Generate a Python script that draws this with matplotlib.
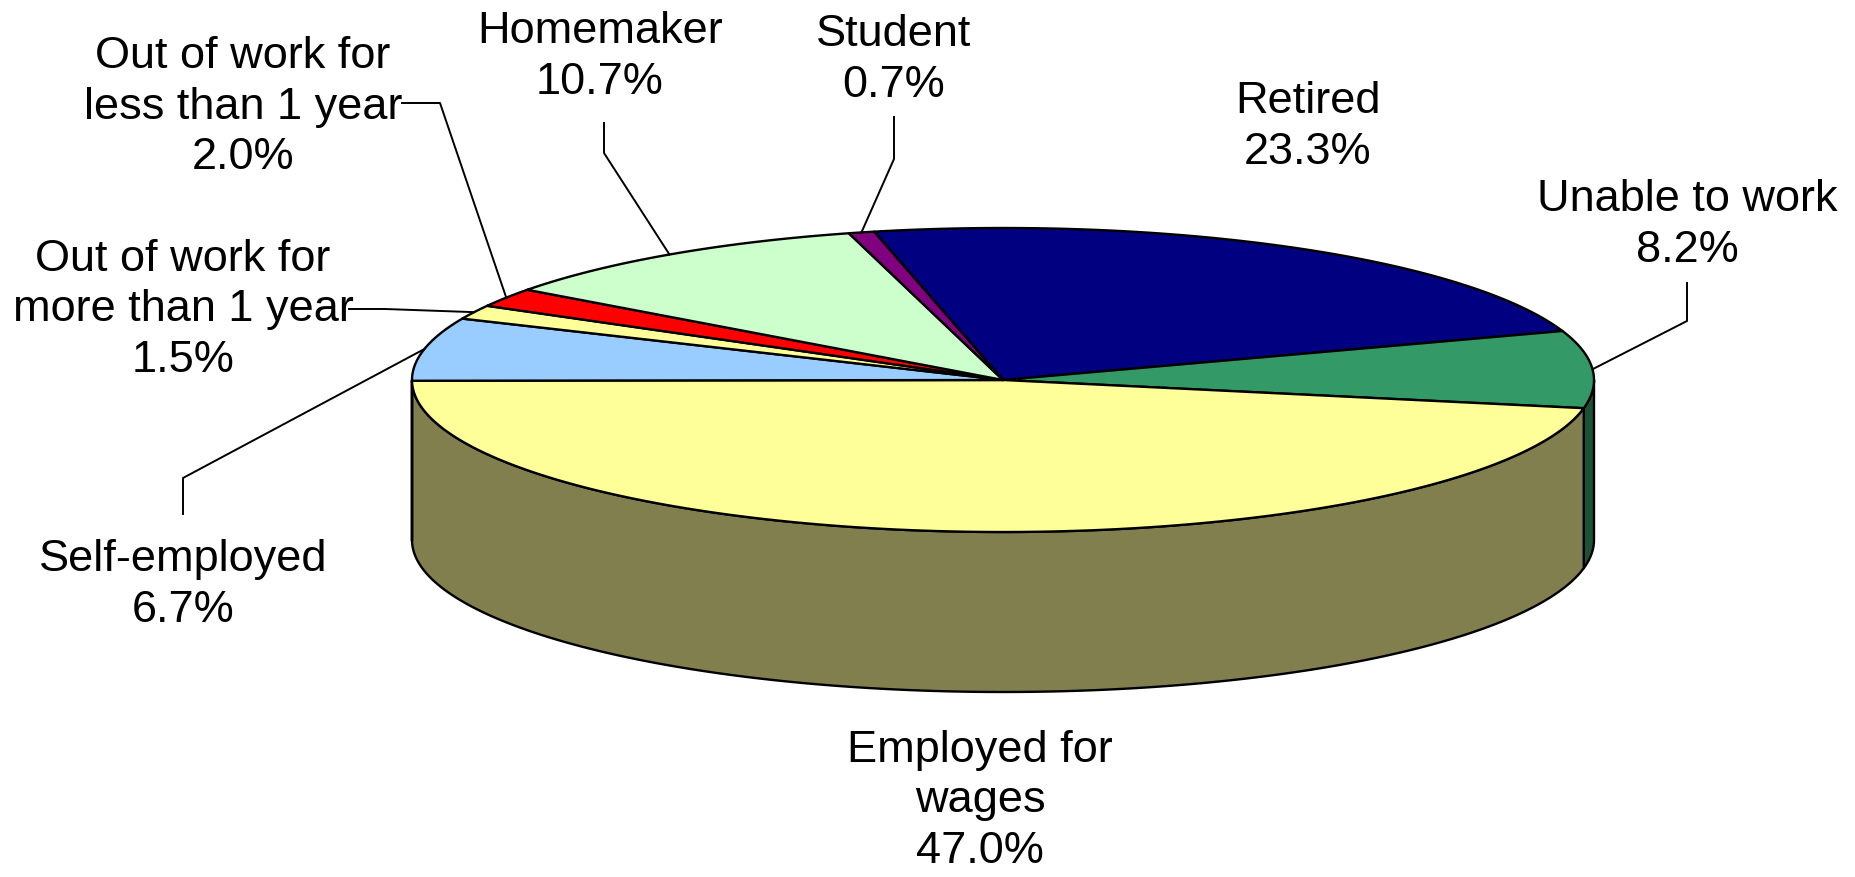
import numpy as np
import matplotlib
matplotlib.use('Agg')
import matplotlib.pyplot as plt
from matplotlib.patches import Polygon

# data, clockwise from the top-left edge of "Retired"
labels = ['Retired', 'Unable to work', 'Employed for\nwages', 'Self-employed',
          'Out of work for\nmore than 1 year', 'Out of work for\nless than 1 year',
          'Homemaker', 'Student']
values = [23.3, 8.2, 47.0, 6.7, 1.5, 2.0, 10.7, 0.7]

top_colors = ['#000080', '#339966', '#FFFF99', '#99CCFF', '#FFFF99', '#FF0000', '#CCFFCC', '#800080']
side_colors = ['#000040', '#1B5237', '#807F4D', '#4D6680', '#807F4D', '#800000', '#668066', '#400040']

# layout (pixel space, y down)
cx, cy, rx, ry, depth = 1003, 381, 591, 152, 160
start_angle = 102.6
label_xy = [(1308, 127), (1687, 225), (980, 801), (183, 585),
            (183, 310), (243, 107), (600, 57), (894, 60)]
leader_pts = [None, [(1687, 284), (1687, 322)], None, [(183, 515), (183, 479)],
              [(349, 310), (385, 310)], [(402, 104), (440, 104)],
              [(604, 124), (604, 154)], [(894, 118), (894, 160)]]


def ex(t):
    return cx + rx * np.cos(np.radians(t))


def ey(t, dz=0):
    return cy - ry * np.sin(np.radians(t)) + dz


fig = plt.figure(figsize=(18.56, 8.78), dpi=100)
ax = fig.add_axes([0, 0, 1, 1])
ax.set_xlim(0, 1856)
ax.set_ylim(878, 0)
ax.axis('off')

vals = np.array(values)
spans = vals / vals.sum() * 360
bounds = start_angle - np.concatenate([[0], np.cumsum(spans)])

# side walls (front half only: 180..360 deg)
for i in range(len(values)):
    hi, lo = bounds[i], bounds[i + 1]
    for k in (-360, 0, 360):
        a = max(lo, -180 + k)
        b = min(hi, 0 + k)
        if b - a <= 0:
            continue
        t = np.linspace(a, b, 200)
        top = np.column_stack([ex(t), ey(t)])
        bot = np.column_stack([ex(t[::-1]), ey(t[::-1], depth)])
        ax.add_patch(Polygon(np.vstack([top, bot]), closed=True, fc=side_colors[i],
                             ec='black', lw=1.7, zorder=1))

# top face
for i in range(len(values)):
    hi, lo = bounds[i], bounds[i + 1]
    t = np.linspace(hi, lo, 300)
    pts = np.vstack([[cx, cy], np.column_stack([ex(t), ey(t)])])
    ax.add_patch(Polygon(pts, closed=True, fc=top_colors[i], ec='black', lw=1.7,
                         joinstyle='round', zorder=2))

# labels + leader lines
for i, name in enumerate(labels):
    x, y = label_xy[i]
    ax.text(x, y, f'{name}\n{values[i]:.1f}%', ha='center', va='center',
            fontsize=32.5, family='Liberation Sans', linespacing=1.3, zorder=5)
    if leader_pts[i] is not None:
        mid = (bounds[i] + bounds[i + 1]) / 2
        pts = leader_pts[i] + [(ex(mid), ey(mid))]
        xs, ys = zip(*pts)
        ax.plot(xs, ys, color='black', lw=1.4, zorder=4)

fig.savefig('out.png', dpi=100, facecolor='white')
